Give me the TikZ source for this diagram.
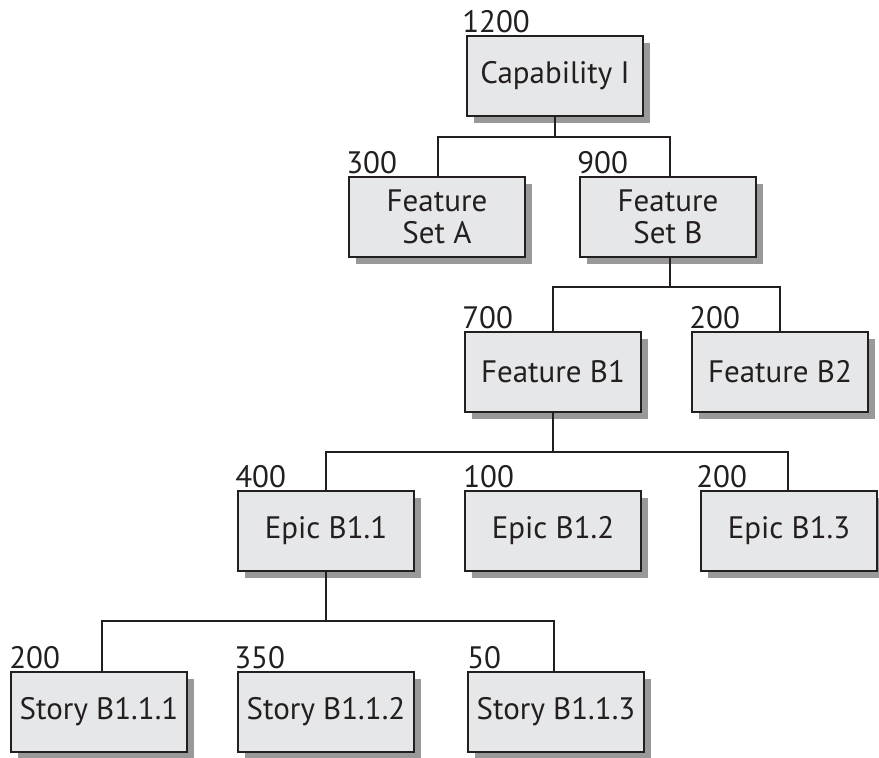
\documentclass[tikz,border=0pt]{standalone}
\usepackage{fontspec}
\setmainfont{PT Sans}
\usetikzlibrary{shadows}
\definecolor{boxfill}{HTML}{E6E7E8}
\definecolor{shadowgray}{HTML}{999999}
\definecolor{ink}{HTML}{231F20}
\begin{document}
\begin{tikzpicture}[x=1pt,y=-1pt,
  box/.style={draw=ink, line width=1.8pt, fill=boxfill, minimum width=176pt, minimum height=80pt,
    inner sep=0pt, align=center, font=\fontsize{31}{32}\selectfont, text=ink,
    drop shadow={shadow xshift=7pt, shadow yshift=-7pt, fill=shadowgray, opacity=1}},
  lbl/.style={anchor=base west, inner sep=0pt, font=\fontsize{31}{32}\selectfont, text=ink},
  conn/.style={draw=ink, line width=1.8pt}]
\useasboundingbox (0,0) rectangle (879,758);
% boxes
\node[box] (cap) at (555,76) {Capability I};
\node[box] (fsa) at (437,217) {Feature\\Set A};
\node[box] (fsb) at (668,217) {Feature\\Set B};
\node[box] (fb1) at (553,372) {Feature B1};
\node[box] (fb2) at (780,372) {Feature B2};
\node[box] (e1) at (326,531) {Epic B1.1};
\node[box] (e2) at (553,531) {Epic B1.2};
\node[box] (e3) at (789,531) {Epic B1.3};
\node[box] (s1) at (99,712) {Story B1.1.1};
\node[box] (s2) at (326,712) {Story B1.1.2};
\node[box] (s3) at (556,712) {Story B1.1.3};
% labels
\node[lbl] (l1) at ([xshift=-4pt,yshift=3pt]cap.north west) {1200};
\node[lbl] (l2) at ([xshift=-2pt,yshift=3pt]fsa.north west) {300};
\node[lbl] (l3) at ([xshift=-2pt,yshift=3pt]fsb.north west) {900};
\node[lbl] (l4) at ([xshift=-2pt,yshift=3pt]fb1.north west) {700};
\node[lbl] (l5) at ([xshift=-2pt,yshift=3pt]fb2.north west) {200};
\node[lbl] (l6) at ([xshift=-2pt,yshift=3pt]e1.north west) {400};
\node[lbl] (l7) at ([xshift=-1pt,yshift=3pt]e2.north west) {100};
\node[lbl] (l8) at ([xshift=-4pt,yshift=3pt]e3.north west) {200};
\node[lbl] (l9) at ([xshift=-1pt,yshift=3pt]s1.north west) {200};
\node[lbl] (l10) at ([xshift=-3pt,yshift=3pt]s2.north west) {350};
\node[lbl] (l11) at ([xshift=0pt,yshift=3pt]s3.north west) {50};
% junctions
\coordinate (j1) at (555,137);
\coordinate (j2) at (670,287);
\coordinate (j3) at (553,452);
\coordinate (j4) at (326,621);
% connectors
\draw[conn] (cap.south) -- (j1);
\draw[conn] (j1) -| ([xshift=1pt]fsa.north);
\draw[conn] (j1) -| ([xshift=2pt]fsb.north);
\draw[conn] ([xshift=2pt]fsb.south) -- (j2);
\draw[conn] (j2) -| (fb1.north);
\draw[conn] (j2) -| (fb2.north);
\draw[conn] (fb1.south) -- (j3);
\draw[conn] (j3) -| (e1.north);
\draw[conn] (j3) -| ([xshift=-1pt]e3.north);
\draw[conn] (e1.south) -- (j4);
\draw[conn] (j4) -| ([xshift=3pt]s1.north);
\draw[conn] (j4) -| ([xshift=-2pt]s3.north);
\end{tikzpicture}
\end{document}
